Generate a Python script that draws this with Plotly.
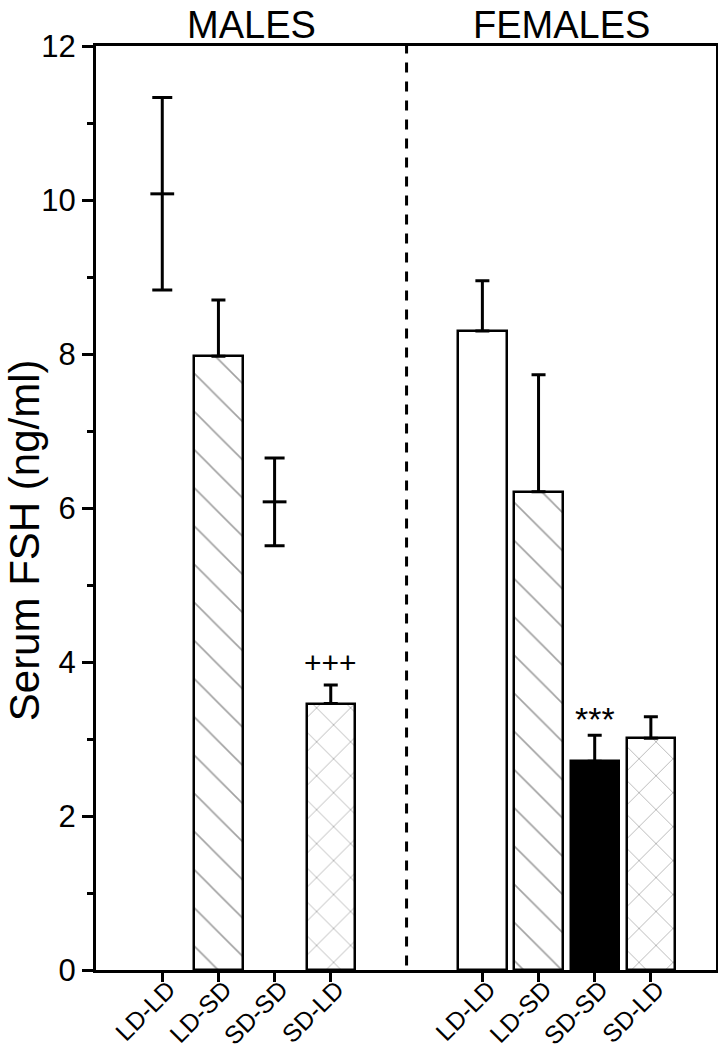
import plotly.graph_objects as go

# ---------------- data ----------------
groups = ["MALES", "FEMALES"]
categories = ["LD-LD", "LD-SD", "SD-SD", "SD-LD"]
male_mean = [10.08, 7.97, 6.08, 3.46]
male_sem = [1.25, 0.73, 0.57, 0.24]
female_mean = [8.30, 6.21, 2.71, 3.01]
female_sem = [0.65, 1.52, 0.34, 0.28]
male_bar_drawn = [False, True, False, True]
male_marks = ["", "", "", "+++"]
female_marks = ["", "", "***", ""]
y_ticks = [0, 2, 4, 6, 8, 10, 12]

# ---------------- styles ----------------
pattern_shape = {"LD-LD": "", "LD-SD": "\\", "SD-SD": "", "SD-LD": "x"}
pattern_size = {"LD-LD": 20, "LD-SD": 27, "SD-SD": 20, "SD-LD": 24}
fill_male = {"LD-LD": "white", "LD-SD": "white", "SD-SD": "white", "SD-LD": "white"}
fill_female = {"LD-LD": "white", "LD-SD": "white", "SD-SD": "black", "SD-LD": "white"}
mark_style = {"+++": dict(size=30, yshift=4), "***": dict(size=34, yshift=-5)}

REG = "Liberation Sans, Arial, sans-serif"

GAP = 2.7
n = len(categories)
xm = list(range(n))
xf = [i + (n - 1) + GAP for i in range(n)]
x_div = (xm[-1] + xf[0]) / 2

fig = go.Figure()

# male bars
mb = [i for i in range(n) if male_bar_drawn[i]]
fig.add_trace(go.Bar(
    x=[xm[i] for i in mb], y=[male_mean[i] for i in mb], width=0.86,
    marker=dict(color=[fill_male[categories[i]] for i in mb],
                line=dict(color="black", width=2.5),
                pattern=dict(shape=[pattern_shape[categories[i]] for i in mb],
                             size=[pattern_size[categories[i]] for i in mb],
                             fgcolor="#7a7a7a", solidity=0.06)),
    error_y=dict(type="data", symmetric=False, array=[male_sem[i] for i in mb],
                 arrayminus=[0] * len(mb), color="black", thickness=3, width=7),
    showlegend=False, hoverinfo="skip"))

# male mean +/- sem without bars
mp = [i for i in range(n) if not male_bar_drawn[i]]
fig.add_trace(go.Scatter(
    x=[xm[i] for i in mp], y=[male_mean[i] for i in mp], mode="markers",
    marker=dict(symbol="line-ew", size=17, color="black", line=dict(color="black", width=3)),
    error_y=dict(type="data", array=[male_sem[i] for i in mp], color="black", thickness=3, width=10),
    showlegend=False, hoverinfo="skip"))

# female bars
fig.add_trace(go.Bar(
    x=xf, y=female_mean, width=0.86,
    marker=dict(color=[fill_female[c] for c in categories],
                line=dict(color="black", width=2.5),
                pattern=dict(shape=[pattern_shape[c] for c in categories],
                             size=[pattern_size[c] for c in categories],
                             fgcolor="#7a7a7a", solidity=0.06)),
    error_y=dict(type="data", symmetric=False, array=female_sem,
                 arrayminus=[0] * n, color="black", thickness=3, width=7),
    showlegend=False, hoverinfo="skip"))

annotations = []
for xs, means, sems, marks in [(xm, male_mean, male_sem, male_marks),
                               (xf, female_mean, female_sem, female_marks)]:
    for i in range(n):
        if marks[i]:
            st = mark_style[marks[i]]
            annotations.append(dict(x=xs[i], y=means[i] + sems[i], xref="x", yref="y",
                                    text=marks[i], showarrow=False, yanchor="bottom",
                                    xanchor="center", yshift=st["yshift"],
                                    font=dict(family=REG, size=st["size"], color="black")))

for gx, g in zip([0.25, 0.75], groups):
    annotations.append(dict(x=gx, y=1, xref="paper", yref="paper", text=g, showarrow=False,
                            xanchor="center", yanchor="bottom", yshift=-1, borderpad=0,
                            font=dict(family=REG, size=38, color="black")))

annotations.append(dict(x=-0.1163, y=0.465, xref="paper", yref="paper",
                        text="Serum FSH (ng/ml)", textangle=-90, showarrow=False,
                        xanchor="center", yanchor="middle", borderpad=0,
                        font=dict(family=REG, size=42, color="black")))

fig.add_shape(type="line", x0=x_div, x1=x_div, y0=0.005, y1=1, xref="x", yref="paper",
              line=dict(color="black", width=3, dash="10px,9px"))

fig.update_layout(
    width=718, height=1050,
    margin=dict(l=96, r=2, t=46, b=80, pad=0),
    paper_bgcolor="white", plot_bgcolor="white",
    font=dict(family=REG, color="black"),
    annotations=annotations,
    bargap=0,
    xaxis=dict(range=[-1.18, xf[-1] + 1.16], tickmode="array",
               tickvals=xm + xf, ticktext=categories + categories,
               tickangle=-45, ticks="outside", ticklen=9, tickwidth=3, tickcolor="black",
               showline=True, linewidth=3, linecolor="black", mirror=True,
               showgrid=False, zeroline=False, automargin=False,
               ticklabelstandoff=-17, ticklabelshift=6,
               tickfont=dict(family=REG, size=25, color="black")),
    yaxis=dict(range=[0, 12], tickmode="array", tickvals=y_ticks,
               ticks="outside", ticklen=11, tickwidth=3, tickcolor="black",
               minor=dict(dtick=1, ticks="outside", ticklen=6, tickwidth=2.5, tickcolor="black"),
               showline=True, linewidth=3, linecolor="black", mirror=True,
               showgrid=False, zeroline=False, automargin=False,
               tickfont=dict(family=REG, size=31, color="black")),
)

# remove the default 8px page margin so the figure fills the 718x1050 window exactly
fig.write_html("out.html", config={"displayModeBar": False},
               post_script="document.body.style.margin='0';")
